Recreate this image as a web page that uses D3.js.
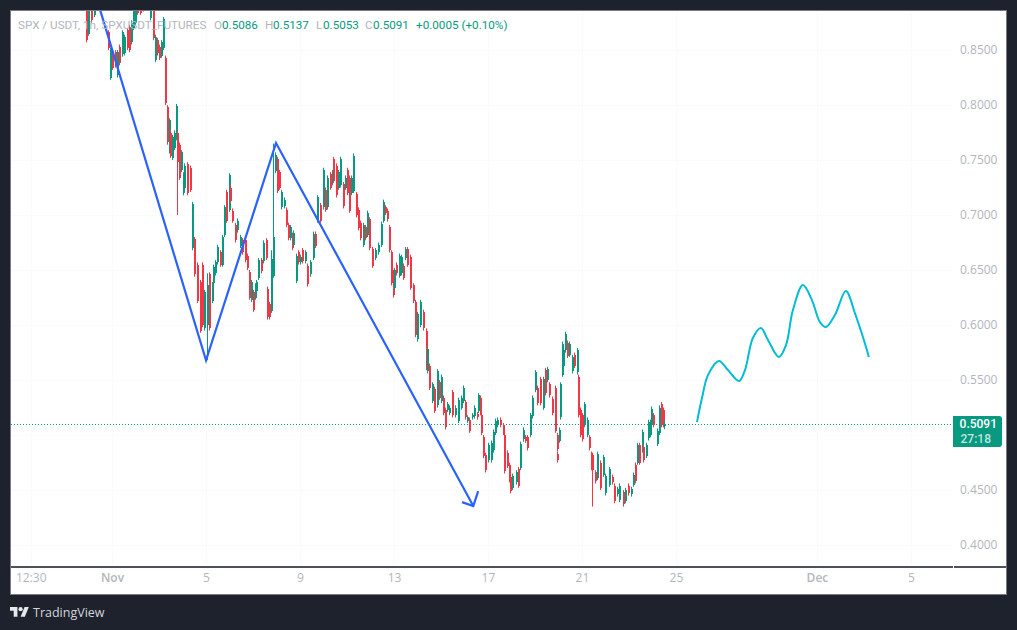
<!DOCTYPE html>
<html>
<head>
<meta charset="utf-8">
<script src="https://cdn.jsdelivr.net/npm/d3@7"></script>
<style>
html, body { margin: 0; padding: 0; background: #1e222d; overflow: hidden; }
svg { display: block; font-family: "Open Sans", sans-serif; }
.domain { display: none; }
</style>
</head>
<body>
<svg id="chart" width="1017" height="630"></svg>
<script>
// hours counted from Nov 1 00:00, candles
var candleHour = [-27,-25,-21,-18,-4,-2,0,3,5,7,
10,12,15,17,19,21,23,26,29,32,
36,39,42,44,46,48,50,52,54,56,
58,59,61,63,65,66,68,70,72,74,
77,80,82,84,87,90,92,94,97,99,
102,103,105,107,110,112,114,116,119,121,
123,126,128,131,133,136,138,140,142,144,
146,147,149,152,154,157,158,160,162,164,
166,169,171,173,176,178,180,182,184,185,
188,190,192,194,197,199,202,205,207,209,
212,215,216,218,220,223,225,226,229,231,
233,236,238,240,242,244,246,249,251,253,
256,258,260,262,266,269,272,275,277,279,
281,283,285,287,288,290,293,295,297,299,
301,304,307,309,311,315,318,321,322,324,
327,329,332,334,336,338,340,342,344,347,
350,353,356,358,361,363,365,368,370,373,
374,376,377,379,381,384,387,389,391,393,
396,399,400,403,405,407,409,413,415,417,
420,422,424,427,429,432,434,437,440,442,
444,446,449,452,454,455,457,458,460,461,
463,465,467,470,472,475,476,478,480,482,
485,487,489,490,493,495,498,501,504,508,
511,513,516,518,522,524,527,530,532,534,
536,538,541,542,545,547,549,551,553,557,
559,561,563,564];

var candleHigh = [.891,.891,.891,.891,.868,.852,.850,.850,.850,.855,
.868,.864,.870,.873,.877,.891,.891,.891,.891,.891,
.891,.891,.891,.864,.861,.855,.859,.880,.845,.800,
.788,.777,.773,.777,.801,.777,.766,.759,.739,.747,
.748,.745,.712,.680,.657,.641,.657,.632,.647,.648,
.639,.655,.659,.673,.668,.682,.709,.723,.738,.727,
.706,.693,.697,.682,.679,.679,.665,.650,.641,.632,
.638,.641,.661,.661,.677,.679,.635,.621,.668,.765,
.757,.753,.741,.723,.716,.707,.693,.691,.684,.686,
.665,.668,.664,.670,.668,.656,.659,.685,.685,.718,
.711,.723,.743,.725,.736,.739,.741,.753,.747,.741,
.753,.730,.736,.743,.736,.736,.756,.721,.707,.695,
.693,.691,.704,.698,.671,.670,.675,.694,.714,.709,
.706,.691,.668,.650,.652,.657,.665,.664,.656,.671,
.671,.664,.638,.623,.612,.623,.614,.597,.580,.565,
.548,.544,.560,.550,.555,.536,.525,.530,.527,.541,
.527,.534,.536,.545,.532,.518,.516,.520,.527,.521,
.538,.536,.520,.500,.484,.493,.495,.505,.515,.516,
.516,.511,.502,.486,.475,.464,.465,.468,.471,.494,
.507,.500,.500,.520,.536,.559,.545,.553,.553,.561,
.562,.548,.535,.545,.502,.485,.507,.548,.585,.579,
.594,.586,.585,.573,.575,.579,.555,.525,.520,.530,
.516,.500,.485,.484,.468,.485,.477,.482,.465,.471,
.464,.456,.453,.456,.450,.452,.456,.453,.466,.475,
.493,.493,.505,.491,.493,.514,.514,.526,.520,.506,
.527,.530,.525,.5137];

var candleLow = [.857,.863,.875,.880,.850,.823,.832,.834,.825,.836,
.844,.845,.850,.848,.855,.868,.873,.882,.882,.885,
.886,.877,.859,.839,.845,.841,.843,.850,.800,.764,
.756,.752,.750,.759,.768,.700,.732,.739,.718,.723,
.718,.721,.668,.644,.620,.593,.598,.595,.568,.595,
.620,.636,.645,.655,.653,.653,.680,.693,.703,.711,
.693,.675,.684,.670,.664,.657,.650,.623,.621,.612,
.623,.629,.641,.647,.656,.659,.605,.605,.611,.643,
.738,.720,.723,.705,.706,.689,.677,.677,.668,.671,
.638,.655,.655,.656,.656,.635,.644,.659,.670,.693,
.693,.705,.712,.703,.705,.723,.727,.729,.716,.723,
.725,.706,.723,.718,.702,.718,.720,.698,.686,.677,
.671,.677,.680,.668,.652,.659,.664,.671,.693,.700,
.694,.666,.636,.625,.632,.645,.643,.645,.641,.659,
.653,.632,.620,.589,.585,.598,.595,.559,.556,.541,
.529,.520,.525,.532,.529,.518,.505,.521,.518,.516,
.516,.511,.523,.529,.514,.511,.502,.514,.515,.514,
.520,.518,.500,.479,.466,.475,.475,.484,.500,.507,
.507,.500,.465,.470,.457,.447,.450,.455,.452,.468,
.494,.493,.486,.498,.515,.539,.527,.527,.523,.536,
.548,.534,.518,.502,.485,.475,.493,.514,.553,.561,
.575,.570,.571,.556,.561,.555,.516,.498,.494,.507,
.498,.486,.468,.435,.456,.459,.450,.462,.445,.453,
.455,.438,.444,.439,.435,.438,.445,.444,.453,.456,
.473,.473,.484,.475,.479,.495,.498,.507,.507,.490,
.500,.507,.507,.5053];

var candleOpen = [.889,.865,.889,.882,.866,.825,.848,.848,.827,.853,
.846,.847,.868,.871,.857,.870,.875,.889,.889,.889,
.889,.879,.889,.841,.859,.853,.845,.852,.843,.798,
.758,.775,.752,.761,.770,.775,.764,.741,.720,.725,
.746,.743,.670,.678,.655,.639,.655,.597,.600,.646,
.622,.638,.647,.657,.666,.655,.682,.721,.705,.725,
.704,.691,.686,.672,.677,.677,.663,.648,.623,.630,
.625,.631,.643,.659,.658,.677,.633,.619,.613,.645,
.740,.751,.739,.707,.708,.705,.691,.679,.682,.673,
.640,.666,.657,.668,.658,.654,.646,.661,.683,.695,
.709,.707,.714,.723,.707,.737,.729,.751,.745,.725,
.727,.728,.725,.741,.734,.720,.722,.719,.705,.693,
.673,.689,.682,.696,.669,.661,.666,.673,.695,.707,
.704,.689,.666,.648,.634,.655,.645,.647,.654,.661,
.669,.662,.636,.621,.587,.600,.612,.595,.558,.563,
.531,.542,.527,.548,.531,.534,.523,.523,.520,.539,
.518,.513,.525,.531,.530,.513,.514,.516,.517,.519,
.522,.534,.518,.498,.482,.477,.477,.486,.502,.509,
.514,.509,.500,.484,.473,.462,.452,.457,.469,.470,
.496,.498,.498,.500,.517,.541,.543,.551,.525,.559,
.550,.546,.533,.543,.500,.483,.495,.516,.555,.563,
.577,.584,.573,.558,.573,.557,.553,.523,.518,.509,
.500,.498,.483,.482,.466,.461,.475,.464,.447,.455,
.462,.454,.446,.441,.448,.440,.454,.446,.455,.473,
.475,.491,.486,.489,.481,.497,.500,.509,.518,.492,
.502,.528,.523,.5086];

var candleClose = [.859,.889,.877,.889,.852,.850,.834,.836,.848,.838,
.866,.862,.852,.850,.875,.889,.889,.884,.884,.887,
.888,.889,.861,.862,.847,.843,.857,.878,.802,.766,
.786,.754,.771,.775,.799,.748,.734,.757,.737,.745,
.720,.723,.710,.646,.622,.595,.600,.630,.636,.597,
.637,.653,.657,.671,.655,.680,.707,.695,.736,.713,
.695,.677,.695,.680,.666,.659,.652,.625,.639,.614,
.636,.639,.659,.649,.675,.661,.607,.607,.660,.680,
.755,.722,.725,.721,.714,.691,.679,.689,.670,.684,
.663,.657,.662,.658,.666,.637,.657,.683,.672,.716,
.695,.721,.741,.705,.734,.725,.739,.731,.718,.739,
.751,.708,.734,.720,.704,.734,.754,.700,.688,.679,
.691,.679,.702,.670,.654,.668,.673,.692,.712,.702,
.696,.668,.638,.627,.650,.647,.663,.662,.643,.669,
.655,.634,.622,.591,.610,.621,.597,.561,.578,.543,
.546,.522,.558,.534,.553,.520,.507,.528,.525,.518,
.525,.532,.534,.543,.516,.516,.504,.518,.525,.516,
.536,.520,.502,.481,.468,.491,.493,.503,.513,.514,
.509,.502,.467,.472,.459,.449,.463,.466,.454,.492,
.505,.495,.488,.518,.534,.557,.529,.529,.551,.538,
.560,.536,.520,.504,.487,.477,.505,.546,.583,.577,
.592,.572,.583,.571,.563,.577,.518,.500,.496,.528,
.514,.488,.470,.468,.458,.483,.452,.480,.463,.469,
.457,.440,.451,.454,.437,.450,.447,.451,.464,.458,
.491,.475,.503,.477,.491,.512,.512,.524,.509,.504,
.525,.509,.509,.5091];

// drawn zigzag and its arrow head
var zigzagHour = [-12, 96, 167.5, 369];
var zigzagPrice = [.886, .568, .7655, .4355];
var arrowHour = [357.5, 369, 374];
var arrowPrice = [.439, .4355, .449];

// drawn projection curve
var curveHour = [597.5,602.6,608.7,619.9,629.1,640.4,646.5,654.6,662.8,670,681.2,688.4,695.5,705.7,714.9,723.1,729.2,738.4,749.6,758.8,767,773.1];
var curvePrice = [.5118,.5336,.5545,.5673,.5591,.5491,.5591,.5882,.5973,.5864,.5709,.5818,.6136,.6364,.6227,.6027,.5982,.6091,.6309,.6109,.5891,.5709];

// 0.5000 sits behind the last price badge in the picture, so it only gets a grid line
var gridPrices = [.40,.45,.50,.55,.60,.65,.70,.75,.80,.85];
var priceTicks = [.40,.45,.55,.60,.65,.70,.75,.80,.85];
var timeTicks = [-83,0,96,192,288,384,480,576,720,816];
var timeLabels = ["12:30","Nov","5","9","13","17","21","25","Dec","5"];
var lastPrice = .5091;

var legendParts = [
  {x: 18, text: "SPX / USDT, 1h, SPXUSDT_FUTURES", c: "#b2b5be"},
  {x: 214, text: "O", c: "#b2b5be"},
  {x: 222, text: "0.5086", c: "#089981"},
  {x: 265, text: "H", c: "#b2b5be"},
  {x: 273, text: "0.5137", c: "#089981"},
  {x: 316, text: "L", c: "#b2b5be"},
  {x: 323, text: "0.5053", c: "#089981"},
  {x: 365, text: "C", c: "#b2b5be"},
  {x: 373, text: "0.5091", c: "#089981"},
  {x: 416, text: "+0.0005 (+0.10%)", c: "#089981"}
];

var up = "#089981", down = "#f23645", ink = "#b2b5be";
var svg = d3.select("#chart");

// white panel
svg.append("rect").attr("x", 10.5).attr("y", 10.5).attr("width", 996).attr("height", 584)
  .attr("fill", "#fff").attr("stroke", "#787b86").attr("stroke-width", 1);

svg.append("clipPath").attr("id", "plot").append("rect")
  .attr("x", 11).attr("y", 11).attr("width", 942).attr("height", 556);

var x = d3.scaleLinear().domain([-103.2, 859]).range([11, 953]);
var y = d3.scaleLinear().domain([.8855, .3805]).range([11, 566.5]);

// faint grid
svg.append("g").selectAll("line").data(timeTicks).enter().append("line")
  .attr("x1", function(d) { return Math.round(x(d)) + .5; })
  .attr("x2", function(d) { return Math.round(x(d)) + .5; })
  .attr("y1", 11).attr("y2", 567).attr("stroke", "#fafafa");
svg.append("g").selectAll("line").data(gridPrices).enter().append("line")
  .attr("x1", 11).attr("x2", 953)
  .attr("y1", function(d) { return Math.round(y(d)) + .5; })
  .attr("y2", function(d) { return Math.round(y(d)) + .5; })
  .attr("stroke", "#fafafa");

// axes
var priceAxis = svg.append("g")
  .attr("transform", "translate(953,0)")
  .call(d3.axisRight(y).tickValues(priceTicks).tickSize(0).tickPadding(7)
    .tickFormat(function(d) { return d.toFixed(4); }));
priceAxis.selectAll("text").attr("fill", ink).style("font-size", "12px").style("font-family", "'Open Sans'");

var timeAxis = svg.append("g")
  .attr("transform", "translate(0,567)")
  .call(d3.axisBottom(x).tickValues(timeTicks).tickSize(0).tickPadding(6)
    .tickFormat(function(d, i) { return timeLabels[i]; }));
timeAxis.selectAll("text").attr("fill", ink).style("font-size", "12px").style("font-family", "'Open Sans'")
  .style("font-weight", function(d, i) { return (timeLabels[i] == "Nov" || timeLabels[i] == "Dec") ? 600 : 400; });

// time axis rule, with the small notch under the price axis
svg.append("line").attr("x1", 11).attr("x2", 1006).attr("y1", 567).attr("y2", 567)
  .attr("stroke", "#131722").attr("stroke-width", 1.4);
svg.append("rect").attr("x", 953).attr("y", 566).attr("width", 1).attr("height", 2).attr("fill", "#fff");

// last price line
svg.append("line")
  .attr("x1", 11).attr("x2", 953)
  .attr("y1", Math.round(y(lastPrice)) - .5).attr("y2", Math.round(y(lastPrice)) - .5)
  .attr("stroke", up).attr("stroke-dasharray", "1 2")
  .attr("shape-rendering", "crispEdges");

// candles
var plot = svg.append("g").attr("clip-path", "url(#plot)");

var candles = plot.selectAll("g.candle")
  .data(candleHour)
  .enter()
  .append("g")
  .attr("class", "candle")
  .attr("fill", function(d, i) { return candleClose[i] >= candleOpen[i] ? up : down; })
  .attr("stroke", function(d, i) { return candleClose[i] >= candleOpen[i] ? up : down; });

candles.append("line")
  .attr("x1", function(d) { return Math.round(x(d)) + .5; })
  .attr("x2", function(d) { return Math.round(x(d)) + .5; })
  .attr("y1", function(d, i) { return y(candleHigh[i]); })
  .attr("y2", function(d, i) { return y(candleLow[i]); })
  .attr("stroke-width", 1);

candles.append("rect")
  .attr("x", function(d) { return Math.round(x(d)); })
  .attr("width", 2)
  .attr("y", function(d, i) { return y(Math.max(candleOpen[i], candleClose[i])); })
  .attr("height", function(d, i) { return Math.abs(y(candleOpen[i]) - y(candleClose[i])); })
  .attr("stroke", "none")
  .attr("shape-rendering", "crispEdges");

// zigzag, arrow and projection
var lineXY = d3.line()
  .x(function(d) { return x(d[0]); })
  .y(function(d) { return y(d[1]); });

plot.append("path")
  .attr("d", lineXY(d3.zip(zigzagHour, zigzagPrice)))
  .attr("fill", "none").attr("stroke", "#2962ff").attr("stroke-width", 2.2);
plot.append("path")
  .attr("d", lineXY(d3.zip(arrowHour, arrowPrice)))
  .attr("fill", "none").attr("stroke", "#2962ff").attr("stroke-width", 2.2);
plot.append("path")
  .attr("d", lineXY.curve(d3.curveCatmullRom.alpha(.5))(d3.zip(curveHour, curvePrice)))
  .attr("fill", "none").attr("stroke", "#00bcd4").attr("stroke-width", 2);

// legend over the candles
svg.append("g").selectAll("text").data(legendParts).enter().append("text")
  .attr("x", function(d) { return d.x; })
  .attr("y", 29)
  .attr("fill", function(d) { return d.c; })
  .style("font-family", "Roboto")
  .style("font-size", "11.7px")
  .text(function(d) { return d.text; });

// last price badge
svg.append("path")
  .attr("d", "M953,416H999a3,3 0 0 1 3,3V444a3,3 0 0 1 -3,3H953Z")
  .attr("fill", up);
svg.append("text").attr("x", 997).attr("y", 428).attr("text-anchor", "end")
  .attr("fill", "#fff").style("font-family", "Roboto").style("font-size", "12px").style("font-weight", 500).text("0.5091");
svg.append("text").attr("x", 991).attr("y", 443).attr("text-anchor", "end")
  .attr("fill", "#fff").attr("fill-opacity", .75).style("font-family", "Roboto").style("font-size", "12px").style("font-weight", 500).text("27:18");

// TradingView logo
var logo = svg.append("g").attr("transform", "translate(10,605) scale(.53)").attr("fill", "#e6e8ee");
logo.append("path").attr("d", "M14 22H7V11H0V4h14v18zM28 22h-8l7.5-18h8L28 22z");
logo.append("circle").attr("cx", 20).attr("cy", 8).attr("r", 4);
svg.append("text").attr("x", 33).attr("y", 617).attr("fill", "#d1d4dc")
  .style("font-size", "12.5px").text("TradingView");
</script>
</body>
</html>
